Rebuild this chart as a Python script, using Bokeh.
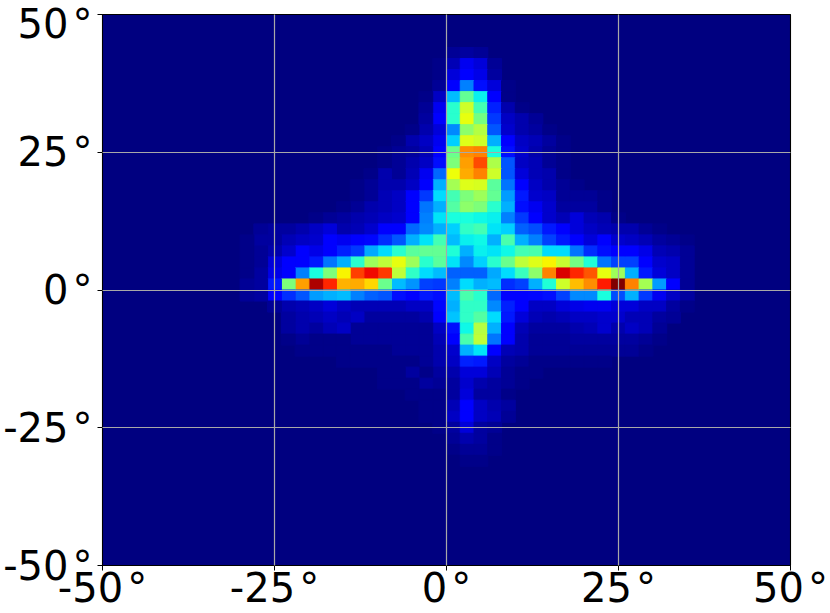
from bokeh.plotting import figure
from bokeh.models import LinearColorMapper, FixedTicker, ColumnDataSource, Range1d
from bokeh.embed import file_html
from bokeh.resources import INLINE

tick_values = [-50, -25, 0, 25, 50]
tick_labels = {-50: "-50\u200a°", -25: "-25\u200a°", 0: "0\u200a°", 25: "25\u200a°", 50: "50\u200a°"}
bin_size = 2

# Each row: (bins left of 0, ending at the bin next to 0), (bins right of 0, starting at 0)
lat_44 = ([], [2, 3, 2])
lat_42 = ([1], [5, 10, 8, 2])
lat_40 = ([1], [8, 12, 9, 3])
lat_38 = ([2], [12, 25, 14, 8, 1])
lat_36 = ([1, 6], [31, 47, 36, 11, 1])
lat_34 = ([2, 10], [40, 60, 43, 16, 4, 1])
lat_32 = ([3, 11], [40, 63, 49, 18, 6, 4, 2])
lat_30 = ([1, 4, 8], [26, 52, 57, 21, 7, 4, 3, 1])
lat_28 = ([1, 4, 6, 10], [33, 62, 60, 30, 11, 6, 5, 3, 1])
lat_26 = ([1, 2, 3, 5, 11], [48, 76, 77, 38, 14, 7, 4, 2, 1])
lat_24 = ([1, 2, 4, 6, 14], [50, 74, 83, 56, 21, 6, 5, 2, 1])
lat_22 = ([1, 4, 2, 5, 10, 23], [64, 73, 77, 60, 21, 8, 5, 4, 1])
lat_20 = ([1, 2, 4, 4, 6, 11, 30], [55, 62, 61, 46, 24, 11, 6, 4, 2, 1])
lat_18 = ([1, 2, 5, 6, 11, 18, 34], [43, 50, 54, 47, 28, 15, 7, 6, 2, 2, 2, 1])
lat_16 = ([1, 2, 4, 5, 6, 11, 24, 30], [45, 52, 50, 40, 30, 14, 10, 7, 3, 3, 3, 1])
lat_14 = ([1, 2, 3, 4, 5, 6, 7, 11, 25, 35], [38, 38, 37, 36, 25, 18, 12, 7, 5, 8, 5, 4, 1])
lat_12 = ([2, 3, 3, 4, 6, 8, 4, 5, 7, 11, 12, 23, 26, 30], [33, 41, 43, 35, 33, 22, 20, 15, 11, 8, 6, 5, 4, 4, 2, 1])
lat_10 = ([1, 3, 3, 5, 6, 7, 11, 10, 11, 13, 17, 21, 30, 35, 43], [31, 36, 37, 30, 44, 30, 25, 19, 15, 12, 8, 11, 7, 6, 5, 3, 2, 1])
lat_8 = ([1, 2, 4, 7, 11, 9, 11, 16, 18, 29, 34, 40, 46, 47, 47], [39, 30, 36, 35, 37, 43, 44, 34, 34, 24, 17, 14, 11, 11, 9, 5, 4, 2])
lat_6 = ([1, 2, 8, 11, 12, 15, 24, 30, 40, 54, 58, 63, 54, 40, 46], [35, 26, 33, 40, 48, 58, 62, 65, 59, 49, 39, 24, 19, 19, 11, 7, 6, 2])
lat_4 = ([1, 3, 9, 11, 25, 38, 50, 65, 84, 90, 85, 58, 41, 34, 31], [22, 22, 22, 29, 34, 42, 52, 77, 92, 87, 82, 63, 54, 30, 15, 8, 6, 2])
lat_2 = ([2, 3, 15, 50, 74, 96, 87, 72, 73, 68, 48, 31, 27, 19, 18], [25, 34, 30, 31, 17, 19, 30, 39, 60, 71, 76, 88, 100, 77, 55, 28, 11, 2])
lat_0 = ([2, 3, 11, 17, 21, 28, 30, 31, 25, 22, 21, 14, 11, 15, 14], [31, 44, 40, 23, 11, 11, 13, 14, 19, 26, 26, 38, 20, 30, 18, 10, 6, 3])
lat_m2 = ([2, 4, 5, 6, 8, 6, 5, 5, 5, 5, 6, 6, 13], [30, 41, 41, 26, 16, 11, 6, 6, 8, 9, 10, 10, 8, 8, 6, 6, 3, 1])
lat_m4 = ([3, 4, 5, 6, 5, 6, 3, 3, 3, 3, 4, 11], [32, 41, 45, 34, 15, 8, 5, 4, 5, 6, 6, 7, 7, 5, 5, 3, 2])
lat_m6 = ([3, 4, 3, 5, 6, 2, 2, 2, 2, 2, 2, 6], [14, 37, 57, 30, 11, 5, 3, 3, 3, 4, 5, 7, 4, 6, 5, 2])
lat_m8 = ([1, 2, 1, 1, 1, 2, 2, 2, 2, 2, 2, 5], [11, 44, 58, 24, 11, 4, 2, 2, 2, 3, 3, 3, 3, 3, 2, 1])
lat_m10 = ([1, 1, 1, 1, 1, 1, 1, 2, 2, 2, 4], [7, 30, 35, 11, 5, 4, 2, 2, 2, 2, 2, 2, 2, 2, 1])
lat_m12 = ([1, 1, 1, 1, 1, 1, 2, 4], [6, 16, 15, 6, 3, 2, 1, 1, 1, 1, 1, 1])
lat_m14 = ([1, 1, 3, 1, 3], [4, 8, 8, 5, 2, 1, 1])
lat_m16 = ([1, 1, 1, 3, 2], [3, 7, 4, 3, 2, 1])
lat_m18 = ([1, 1, 1], [3, 8, 3, 3, 1])
lat_m20 = ([1, 1], [5, 11, 6, 4, 3])
lat_m22 = ([1, 1], [6, 11, 6, 5, 2])
lat_m24 = ([1], [3, 8, 3, 2])
lat_m26 = ([], [2, 4, 3, 1])
lat_m28 = ([], [1, 2, 2, 1])
lat_m30 = ([], [0, 1, 1])

rows = {
    44: lat_44, 42: lat_42, 40: lat_40, 38: lat_38, 36: lat_36, 34: lat_34, 32: lat_32,
    30: lat_30, 28: lat_28, 26: lat_26, 24: lat_24, 22: lat_22, 20: lat_20, 18: lat_18,
    16: lat_16, 14: lat_14, 12: lat_12, 10: lat_10, 8: lat_8, 6: lat_6, 4: lat_4, 2: lat_2,
    0: lat_0, -2: lat_m2, -4: lat_m4, -6: lat_m6, -8: lat_m8, -10: lat_m10, -12: lat_m12,
    -14: lat_m14, -16: lat_m16, -18: lat_m18, -20: lat_m20, -22: lat_m22, -24: lat_m24,
    -26: lat_m26, -28: lat_m28, -30: lat_m30,
}


def jet(v):
    def clip(a):
        return max(0.0, min(1.0, a))
    r = clip(min((v - 0.35) / 0.31, (1.0 - v) / 0.22 + 0.5 if v > 0.89 else 1.0))
    g = clip(min((v - 0.125) / 0.25, (0.91 - v) / 0.27))
    b = clip(min(0.5 + v / 0.22, (0.65 - v) / 0.31))
    return "#%02x%02x%02x" % (round(r * 255), round(g * 255), round(b * 255))


palette = [jet(i / 255) for i in range(256)]

left, right, top, bottom, val = [], [], [], [], []
for lat_top, (west, east) in rows.items():
    for i, v in enumerate(reversed(west)):
        left.append(-bin_size * (i + 1)); right.append(-bin_size * i)
        top.append(lat_top); bottom.append(lat_top - bin_size); val.append(v)
    for i, v in enumerate(east):
        left.append(bin_size * i); right.append(bin_size * (i + 1))
        top.append(lat_top); bottom.append(lat_top - bin_size); val.append(v)

source = ColumnDataSource(dict(left=left, right=right, top=top, bottom=bottom, val=val))
mapper = LinearColorMapper(palette=palette, low=0, high=100)

p = figure(width=830, height=613, output_backend="svg", toolbar_location=None,
           x_range=Range1d(-50, 50), y_range=Range1d(-50, 50),
           min_border_left=102, min_border_right=40, min_border_top=14, min_border_bottom=47,
           background_fill_color=palette[0], border_fill_color="white")
p.styles = {"position": "absolute", "left": "0px", "top": "0px"}
p.quad(left="left", right="right", top="top", bottom="bottom", source=source,
       fill_color={"field": "val", "transform": mapper},
       line_color={"field": "val", "transform": mapper}, line_width=1)

for ax in (p.xaxis[0], p.yaxis[0]):
    ax.ticker = FixedTicker(ticks=tick_values)
    ax.major_label_overrides = tick_labels
    ax.major_label_text_font = "DejaVu Sans"
    ax.major_label_text_font_size = "40px"
    ax.major_label_text_color = "black"
    ax.major_tick_out = 5
    ax.major_tick_in = 0
    ax.minor_tick_out = 0
    ax.minor_tick_in = 0
    ax.axis_line_color = "black"
    ax.major_tick_line_color = "black"
p.xaxis[0].major_label_standoff = -6
p.yaxis[0].major_label_standoff = 5

p.grid.level = "overlay"
p.grid.grid_line_color = "#a8a8a8"
p.grid.grid_line_width = 1.2
p.outline_line_color = "black"
p.outline_line_width = 1.1

open("out.html", "w").write(file_html(p, INLINE))
